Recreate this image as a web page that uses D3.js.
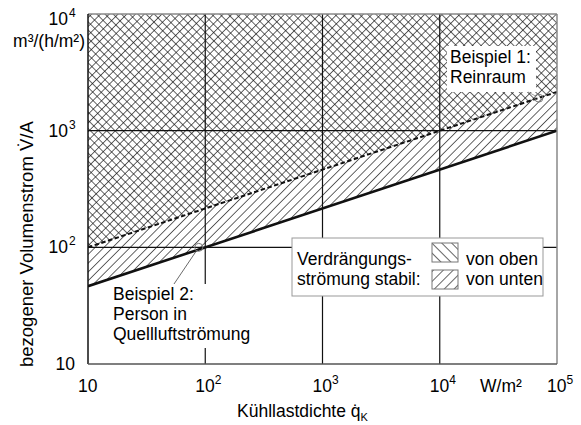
<!DOCTYPE html>
<html>
<head>
<meta charset="utf-8">
<script src="https://cdn.jsdelivr.net/npm/d3@7"></script>
<style>
  body { margin: 0; background: #fff; }
  svg { display: block; font-family: "Liberation Sans", Arial, sans-serif; }
</style>
</head>
<body>
<div id="chart"></div>
<script>
// decades on both log axes
const xDecades = [1, 2, 3, 4, 5];
const yDecades = [1, 2, 3, 4];
// boundaries of stable displacement flow (V/A over q_K), straight in log-log
const fromBelow = [[10, 46.4], [1e5, 1000]];   // von unten (solid)
const fromAbove = [[10, 100], [1e5, 2150]];    // von oben (dashed)
// example points
const examples = [[88, 100], [70000, 1900]];

const width = 581, height = 425;
const plot = { left: 88, right: 557, top: 14, bottom: 364 };

const svg = d3.select('#chart').append('svg')
    .attr('width', width)
    .attr('height', height);

const x = d3.scaleLog().domain([10, 1e5]).range([plot.left, plot.right]);
const y = d3.scaleLog().domain([10, 1e4]).range([plot.bottom, plot.top]);

const defs = svg.append('defs');
defs.append('clipPath').attr('id', 'plotClip')
    .append('rect')
    .attr('x', plot.left).attr('y', plot.top)
    .attr('width', plot.right - plot.left).attr('height', plot.bottom - plot.top);

// hatch patterns: '/' for von unten, '\' for von oben
function hatch(id, angle, spacing) {
    defs.append('pattern')
        .attr('id', id)
        .attr('patternUnits', 'userSpaceOnUse')
        .attr('width', spacing).attr('height', spacing)
        .attr('patternTransform', 'rotate(' + angle + ')')
        .append('line')
        .attr('x1', 0).attr('y1', -1).attr('x2', 0).attr('y2', spacing + 1)
        .attr('stroke', '#111')
        .attr('stroke-width', 1.3);
}
hatch('hatchUp', 45, 6.2);
hatch('hatchDown', -45, 5.8);
hatch('legUp', 45, 7);
hatch('legDown', -45, 7);

const g = svg.append('g').attr('clip-path', 'url(#plotClip)');

const areaAbove = d3.area()
    .x(d => x(d[0]))
    .y0(y(1e4))
    .y1(d => y(d[1]));

g.append('path').datum(fromBelow).attr('d', areaAbove).attr('fill', 'url(#hatchUp)');
g.append('path').datum(fromAbove).attr('d', areaAbove).attr('fill', 'url(#hatchDown)');

// grid
g.selectAll('.vgrid').data(xDecades.slice(1, -1)).enter().append('line')
    .attr('x1', d => x(Math.pow(10, d))).attr('x2', d => x(Math.pow(10, d)))
    .attr('y1', plot.top).attr('y2', plot.bottom)
    .attr('stroke', '#111').attr('stroke-width', 1.2);
g.selectAll('.hgrid').data(yDecades.slice(1, -1)).enter().append('line')
    .attr('y1', d => y(Math.pow(10, d))).attr('y2', d => y(Math.pow(10, d)))
    .attr('x1', plot.left).attr('x2', plot.right)
    .attr('stroke', '#111').attr('stroke-width', 1.2);

const line = d3.line().x(d => x(d[0])).y(d => y(d[1]));
g.append('path').datum(fromAbove).attr('d', line)
    .attr('fill', 'none').attr('stroke', '#111')
    .attr('stroke-width', 2).attr('stroke-dasharray', '4.5,2.5');
g.append('path').datum(fromBelow).attr('d', line)
    .attr('fill', 'none').attr('stroke', '#111').attr('stroke-width', 2.6);

// frame
svg.append('line').attr('x1', plot.left).attr('x2', plot.right).attr('y1', plot.top).attr('y2', plot.top)
    .attr('stroke', '#888').attr('stroke-width', 1.5);
svg.append('line').attr('x1', plot.right).attr('x2', plot.right).attr('y1', plot.top).attr('y2', plot.bottom)
    .attr('stroke', '#888').attr('stroke-width', 1.5);
svg.append('line').attr('x1', plot.left).attr('x2', plot.left).attr('y1', plot.top).attr('y2', plot.bottom)
    .attr('stroke', '#111').attr('stroke-width', 1.5);
svg.append('line').attr('x1', plot.left).attr('x2', plot.right).attr('y1', plot.bottom).attr('y2', plot.bottom)
    .attr('stroke', '#555').attr('stroke-width', 1.5);

// example boxes and markers
const ex1 = svg.append('g');
ex1.append('rect').attr('x', 447).attr('y', 46).attr('width', 89).attr('height', 46).attr('fill', '#fff');
ex1.append('line')
    .attr('x1', x(examples[1][0]) - 3).attr('y1', y(examples[1][1]) - 2)
    .attr('x2', 528).attr('y2', 92)
    .attr('stroke', '#888').attr('stroke-width', 0.8);
ex1.append('text').attr('x', 450).attr('y', 63).attr('font-size', 17.5).text('Beispiel 1:');
ex1.append('text').attr('x', 450).attr('y', 83).attr('font-size', 17.5).text('Reinraum');

const ex2 = svg.append('g');
ex2.append('rect').attr('x', 110).attr('y', 284).attr('width', 152).attr('height', 64).attr('fill', '#fff');
ex2.append('line')
    .attr('x1', x(examples[0][0]) - 2).attr('y1', y(examples[0][1]) + 3)
    .attr('x2', 174).attr('y2', 284)
    .attr('stroke', '#444').attr('stroke-width', 0.8);
['Beispiel 2:', 'Person in', 'Quellluftströmung'].forEach((t, i) => {
    ex2.append('text').attr('x', 113).attr('y', 300 + i * 20).attr('font-size', 17.5).text(t);
});

svg.selectAll('.example').data(examples).enter().append('circle')
    .attr('cx', d => x(d[0])).attr('cy', d => y(d[1]))
    .attr('r', 4)
    .attr('fill', 'none').attr('stroke', '#777').attr('stroke-width', 1);

// legend
const leg = svg.append('g');
leg.append('rect').attr('x', 292).attr('y', 238).attr('width', 251).attr('height', 58)
    .attr('fill', '#fff').attr('stroke', '#999').attr('stroke-width', 1);
leg.append('text').attr('x', 297).attr('y', 265).attr('font-size', 17.5).text('Verdrängungs-');
leg.append('text').attr('x', 297).attr('y', 285).attr('font-size', 17.5).text('strömung stabil:');
leg.append('rect').attr('x', 432).attr('y', 243).attr('width', 26).attr('height', 19)
    .attr('fill', 'url(#legDown)').attr('stroke', '#777');
leg.append('rect').attr('x', 432).attr('y', 270).attr('width', 26).attr('height', 19)
    .attr('fill', 'url(#legUp)').attr('stroke', '#777');
leg.append('text').attr('x', 466).attr('y', 265).attr('font-size', 17.5).text('von oben');
leg.append('text').attr('x', 466).attr('y', 285).attr('font-size', 17.5).text('von unten');

// tick labels
function powLabel(sel, d) {
    if (d === 1) { sel.text('10'); return; }
    sel.append('tspan').text('10');
    sel.append('tspan').attr('dy', -8).attr('font-size', 12).text(d);
}
svg.selectAll('.xlab').data(xDecades).enter().append('text')
    .attr('x', d => x(Math.pow(10, d)) - 10)
    .attr('y', 392)
    .attr('font-size', 17.5)
    .each(function(d) { powLabel(d3.select(this), d); });
svg.append('text').attr('x', 480).attr('y', 392).attr('font-size', 17.5).text('W/m²');

svg.selectAll('.ylab').data(yDecades).enter().append('text')
    .attr('x', d => d === 1 ? 75 : 68)
    .attr('y', d => d === 4 ? 25 : y(Math.pow(10, d)) + 6)
    .attr('text-anchor', 'end')
    .attr('font-size', 17.5)
    .text('10');
svg.selectAll('.yexp').data(yDecades.slice(1)).enter().append('text')
    .attr('x', 69)
    .attr('y', d => d === 4 ? 17 : y(Math.pow(10, d)) - 2)
    .attr('font-size', 12)
    .text(d => d);
svg.append('text').attr('x', 85).attr('y', 47).attr('text-anchor', 'end')
    .attr('font-size', 17.5).text('m³/(h/m²)');

// axis titles
const xt = svg.append('text').attr('x', 237).attr('y', 417).attr('font-size', 17.5);
xt.append('tspan').text('Kühllastdichte  q̇');
xt.append('tspan').attr('dy', 4).attr('font-size', 11).text('K');

svg.append('text')
    .attr('transform', 'translate(33,367) rotate(-90)')
    .attr('font-size', 18.5)
    .text('bezogener Volumenstrom  V̇/A');
</script>
</body>
</html>
